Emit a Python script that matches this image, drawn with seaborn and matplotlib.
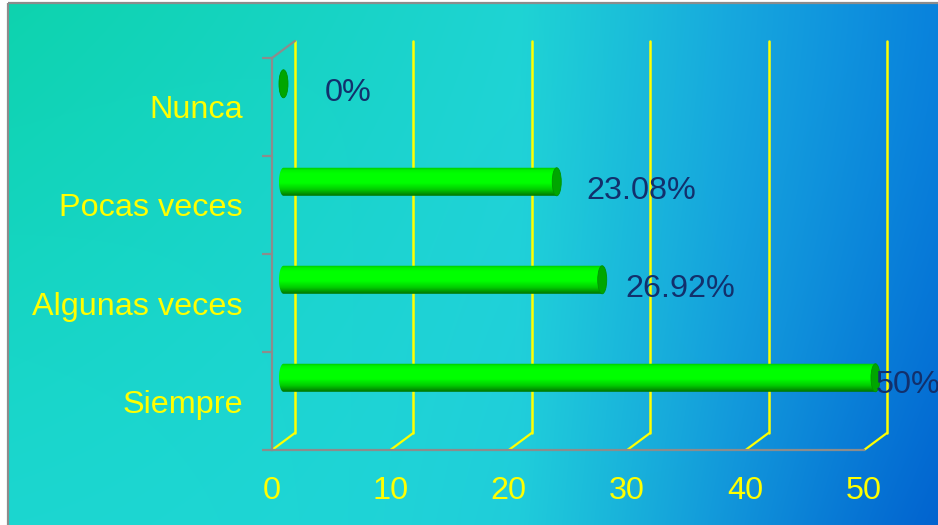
import numpy as np
import pandas as pd
import matplotlib
matplotlib.use("Agg")
import matplotlib.pyplot as plt
from matplotlib.patches import Polygon, Ellipse, Rectangle
from matplotlib.transforms import Affine2D
from matplotlib.colors import to_rgb
import seaborn as sns

# ---- data ----
categories = ["Nunca", "Pocas veces", "Algunas veces", "Siempre"]
percentages = [0.0, 23.08, 26.92, 50.0]
value_labels = ["0%", "23.08%", "26.92%", "50%"]
x_ticks = [0, 10, 20, 30, 40, 50]

# ---- style ----
sns.set_style("white")
plt.rcParams["font.family"] = ["Liberation Sans", "DejaVu Sans"]

W, H, DPI = 938, 525, 100
YELLOW = "#FFFF00"
GRAY = "#8C8C8C"
NAVY = "#12306C"
FS = 23.3

# depth of the pseudo-3D floor (data units along x / categories along y)
DX, DY = 1.94, 0.174
BAR_W = 0.286
BAR_LIFT = 0.15
CAP_A = 0.38  # half-width of the cylinder end ellipse (x units)
label_offsets_pt = [(30, -7), (21, -7), (17, -7), (0, -5)]

fig = plt.figure(figsize=(W / DPI, H / DPI), dpi=DPI)
fig.patch.set_facecolor("white")

# ---- gradient backdrop ----
bg = fig.add_axes([0, 0, 1, 1], zorder=-5)
bg.set_xlim(0, W)
bg.set_ylim(H, 0)
bg.axis("off")
nx, ny = 400, 220
u = np.linspace(0, 1, nx)[None, :]
v = np.linspace(0, 1, ny)[:, None]
stops_u = [0.0, 0.55, 0.78, 1.0]
stops_c = [to_rgb(c) for c in ["#16D6C6", "#22D4DC", "#17A6E0", "#0982DC"]]
base = np.zeros((ny, nx, 3))
for k in range(3):
    base[..., k] = np.interp(np.broadcast_to(u, (ny, nx)), stops_u, [c[k] for c in stops_c])
green = np.array(to_rgb("#0CD2A8"))
w_g = ((1 - u) ** 2 * (1 - v) ** 1.5)[..., None] * 0.8
base = base * (1 - w_g) + green * w_g
cyan = np.array(to_rgb("#22D8DA"))
w_c = ((1 - u) * v ** 2)[..., None] * 0.5
base = base * (1 - w_c) + cyan * w_c
deep = np.array(to_rgb("#005CCC"))
w_d = (u ** 4 * v ** 1.5)[..., None] * 0.8
base = base * (1 - w_d) + deep * w_d
bg.imshow(base, extent=[8, W, H, 3], aspect="auto", interpolation="bilinear")
bg.add_patch(Rectangle((8, 3), W, H, fill=False, edgecolor=GRAY, lw=1.6))

# ---- main chart ----
ax = fig.add_axes([272 / W, 1 - 450 / H, 592 / W, 392 / H], zorder=1)
ax.set_facecolor("none")
df = pd.DataFrame({"categoria": categories, "porcentaje": percentages})
sns.barplot(data=df, x="porcentaje", y="categoria", orient="h", width=BAR_W,
            color="#00FF00", ax=ax, zorder=3)
ax.set_xlim(0, 50)
ax.set_ylim(3.5, -0.5)
ax.set_xlabel("")
ax.set_ylabel("")

# floor grid: back verticals and floor diagonals
for t in x_ticks:
    ax.plot([t + DX, t + DX], [-0.5 - DY, 3.5 - DY], color=YELLOW, lw=1.8,
            clip_on=False, zorder=1)
    ax.plot([t, t + DX], [3.5, 3.5 - DY], color=YELLOW, lw=1.6,
            clip_on=False, zorder=1)
ax.plot([0, DX], [-0.5, -0.5 - DY], color=GRAY, lw=1.6, clip_on=False, zorder=2)

# cylinder bars
shift = Affine2D().translate(DX / 2, -BAR_LIFT - DY / 2) + ax.transData
grad_stops = [0.0, 0.1, 0.22, 0.55, 0.78, 1.0]
grad_cols = [to_rgb(c) for c in ["#00C400", "#00F200", "#00FF00", "#00FF00", "#00CC00", "#007400"]]
g = np.linspace(0, 1, 64)
grad = np.stack([np.interp(g, grad_stops, [c[k] for c in grad_cols]) for k in range(3)], axis=-1)[:, None, :]

bars = list(ax.patches)
for bar in bars:
    x0, w = bar.get_x(), bar.get_width()
    y0, h = bar.get_y(), bar.get_height()
    y1 = y0 + h
    yc = y0 + h / 2
    x1 = x0 + w
    bar.set_visible(False)
    th = np.linspace(np.pi / 2, 3 * np.pi / 2, 40)
    arc = np.column_stack([x0 + CAP_A * np.cos(th), yc - (h / 2) * np.sin(th)])
    body = np.vstack([[[x0, y0], [x1, y0], [x1, y1], [x0, y1]], arc[::-1]])
    clip = Polygon(body, closed=True, transform=shift)
    im = ax.imshow(grad, extent=[x0 - CAP_A, x1 + CAP_A, y1, y0], aspect="auto",
                   interpolation="bilinear", zorder=3)
    im.set_transform(shift)
    im.set_clip_box(fig.bbox)
    im.set_clip_path(clip)
    ax.add_patch(Ellipse((x1, yc), 2 * CAP_A, h, facecolor="#00A600",
                         edgecolor="#009400", lw=0.6, transform=shift, zorder=4,
                         clip_on=False))
ax.set_xlim(0, 50)
ax.set_ylim(3.5, -0.5)

# value labels
for i, (val, txt) in enumerate(zip(percentages, value_labels)):
    ax.annotate(txt, xy=(val, i), xycoords=shift, xytext=label_offsets_pt[i],
                textcoords="offset points", ha="left", va="center",
                color=NAVY, fontsize=FS, zorder=6, annotation_clip=False)

# axes, ticks and labels
for side in ["top", "right"]:
    ax.spines[side].set_visible(False)
for side in ["left", "bottom"]:
    ax.spines[side].set_color(GRAY)
    ax.spines[side].set_linewidth(1.6)
ax.set_xticks(x_ticks)
ax.set_xticklabels([str(t) for t in x_ticks])
ax.tick_params(axis="x", colors=GRAY, length=7, width=1.6, labelcolor=YELLOW,
               labelsize=FS, pad=12)
ax.set_yticks(range(len(categories)))
ax.set_yticklabels(categories)
ax.set_yticks([-0.5, 0.5, 1.5, 2.5, 3.5], minor=True)
ax.tick_params(axis="y", which="major", length=0, labelcolor=YELLOW,
               labelsize=FS, pad=21)
ax.tick_params(axis="y", which="minor", colors=GRAY, length=7, width=1.6,
               left=True)
ax.grid(False)

fig.savefig("out.png", dpi=DPI)
